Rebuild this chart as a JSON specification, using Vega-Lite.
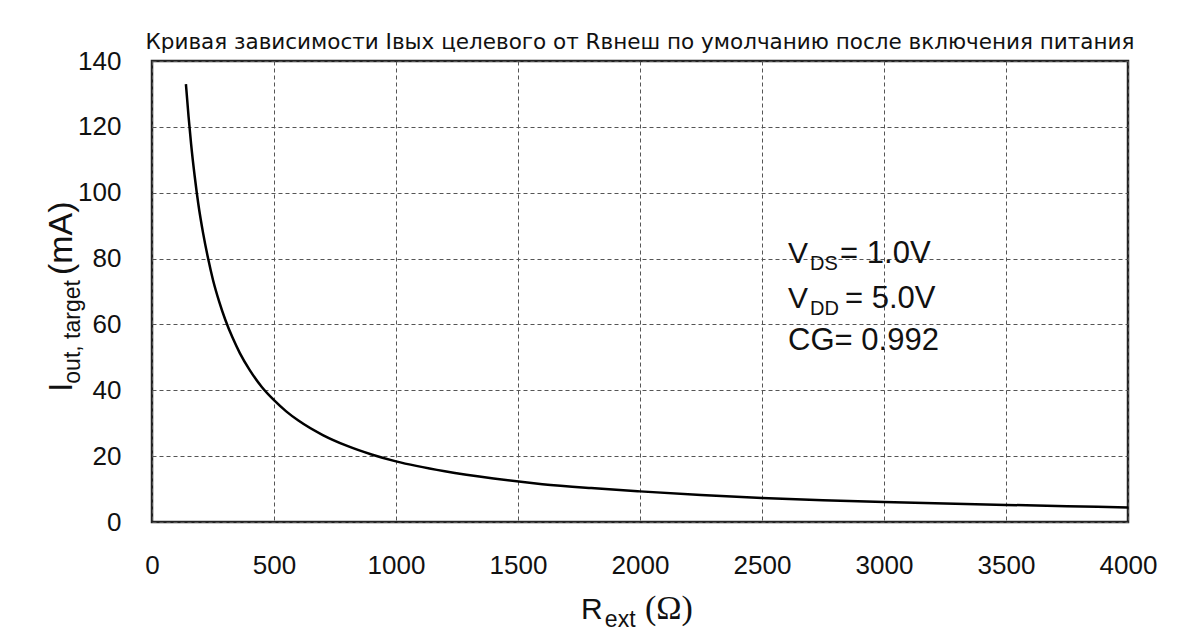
{
  "$schema": "https://vega.github.io/schema/vega-lite/v6.json",
  "width": 976,
  "height": 461,
  "autosize": {"type": "none"},
  "padding": {"left": 152, "top": 61, "right": 56, "bottom": 111},
  "background": "white",
  "title": {
    "text": "Кривая зависимости Iвых целевого от Rвнеш по умолчанию после включения питания",
    "font": "DejaVu Sans",
    "fontSize": 21.5,
    "fontWeight": "normal",
    "color": "#111111",
    "anchor": "middle",
    "baseline": "alphabetic",
    "offset": -22
  },
  "config": {
    "view": {"stroke": "#222222", "strokeWidth": 2.5},
    "axis": {
      "domain": false,
      "ticks": false,
      "grid": true,
      "gridColor": "#555555",
      "gridDash": [4, 3],
      "gridWidth": 1,
      "labelFont": "Liberation Sans",
      "labelFontSize": 26,
      "labelColor": "#111111",
      "labelFlush": false,
      "labelOverlap": false,
      "format": "d",
      "title": null
    },
    "text": {"font": "Liberation Sans", "color": "#111111", "align": "left", "baseline": "alphabetic"}
  },
  "datasets": {
    "curve": [
      {"R": 139, "I": 133},
      {"R": 150, "I": 123},
      {"R": 160, "I": 115},
      {"R": 175, "I": 105},
      {"R": 190, "I": 96.5},
      {"R": 210, "I": 87.5},
      {"R": 230, "I": 80},
      {"R": 250, "I": 73.5},
      {"R": 275, "I": 67},
      {"R": 300, "I": 61.5},
      {"R": 330, "I": 56},
      {"R": 360, "I": 51.3},
      {"R": 400, "I": 46.2},
      {"R": 450, "I": 41},
      {"R": 500, "I": 37},
      {"R": 550, "I": 33.6},
      {"R": 600, "I": 30.8},
      {"R": 700, "I": 26.4},
      {"R": 800, "I": 23.1},
      {"R": 900, "I": 20.5},
      {"R": 1000, "I": 18.4},
      {"R": 1200, "I": 15.4},
      {"R": 1400, "I": 13.2},
      {"R": 1600, "I": 11.5},
      {"R": 1800, "I": 10.3},
      {"R": 2000, "I": 9.3},
      {"R": 2250, "I": 8.2},
      {"R": 2500, "I": 7.3},
      {"R": 2750, "I": 6.6},
      {"R": 3000, "I": 6.05},
      {"R": 3250, "I": 5.6},
      {"R": 3500, "I": 5.2},
      {"R": 3750, "I": 4.8},
      {"R": 4000, "I": 4.4}
    ]
  },
  "layer": [
    {
      "data": {"name": "curve"},
      "mark": {"type": "line", "color": "#000000", "strokeWidth": 2.5, "interpolate": "monotone"},
      "encoding": {
        "x": {
          "field": "R", "type": "quantitative",
          "scale": {"domain": [0, 4000], "nice": false},
          "axis": {"values": [0, 500, 1000, 1500, 2000, 2500, 3000, 3500, 4000], "labelPadding": 30}
        },
        "y": {
          "field": "I", "type": "quantitative",
          "scale": {"domain": [0, 140], "nice": false},
          "axis": {"values": [0, 20, 40, 60, 80, 100, 120, 140], "labelPadding": 31}
        }
      }
    },
    {
      "data": {"values": [{"t": "V"}]},
      "mark": {"type": "text", "fontSize": 30},
      "encoding": {"x": {"datum": 2607}, "y": {"datum": 78.65}, "text": {"field": "t"}}
    },
    {
      "data": {"values": [{"t": "DS"}]},
      "mark": {"type": "text", "fontSize": 20},
      "encoding": {"x": {"datum": 2697}, "y": {"datum": 76.6}, "text": {"field": "t"}}
    },
    {
      "data": {"values": [{"t": "= 1.0V"}]},
      "mark": {"type": "text", "fontSize": 31},
      "encoding": {"x": {"datum": 2820}, "y": {"datum": 78.65}, "text": {"field": "t"}}
    },
    {
      "data": {"values": [{"t": "V"}]},
      "mark": {"type": "text", "fontSize": 30},
      "encoding": {"x": {"datum": 2607}, "y": {"datum": 64.9}, "text": {"field": "t"}}
    },
    {
      "data": {"values": [{"t": "DD"}]},
      "mark": {"type": "text", "fontSize": 20},
      "encoding": {"x": {"datum": 2697}, "y": {"datum": 62.86}, "text": {"field": "t"}}
    },
    {
      "data": {"values": [{"t": "= 5.0V"}]},
      "mark": {"type": "text", "fontSize": 31},
      "encoding": {"x": {"datum": 2840}, "y": {"datum": 64.9}, "text": {"field": "t"}}
    },
    {
      "data": {"values": [{"t": "CG= 0.992"}]},
      "mark": {"type": "text", "fontSize": 31},
      "encoding": {"x": {"datum": 2607}, "y": {"datum": 52.2}, "text": {"field": "t"}}
    },
    {
      "data": {"values": [{"t": "I"}]},
      "mark": {"type": "text", "fontSize": 34, "angle": 270},
      "encoding": {"x": {"datum": -328}, "y": {"datum": 39.5}, "text": {"field": "t"}}
    },
    {
      "data": {"values": [{"t": "out, target"}]},
      "mark": {"type": "text", "fontSize": 23, "angle": 270},
      "encoding": {"x": {"datum": -295}, "y": {"datum": 42.0}, "text": {"field": "t"}}
    },
    {
      "data": {"values": [{"t": "(mA)"}]},
      "mark": {"type": "text", "fontSize": 34, "angle": 270},
      "encoding": {"x": {"datum": -328}, "y": {"datum": 75.0}, "text": {"field": "t"}}
    },
    {
      "data": {"values": [{"t": "R"}]},
      "mark": {"type": "text", "fontSize": 30},
      "encoding": {"x": {"datum": 1758}, "y": {"datum": -29.46}, "text": {"field": "t"}}
    },
    {
      "data": {"values": [{"t": "ext"}]},
      "mark": {"type": "text", "fontSize": 23},
      "encoding": {"x": {"datum": 1856}, "y": {"datum": -31.9}, "text": {"field": "t"}}
    },
    {
      "data": {"values": [{"t": "(Ω)"}]},
      "mark": {"type": "text", "fontSize": 34, "font": "Liberation Serif"},
      "encoding": {"x": {"datum": 2020}, "y": {"datum": -29.46}, "text": {"field": "t"}}
    }
  ]
}
